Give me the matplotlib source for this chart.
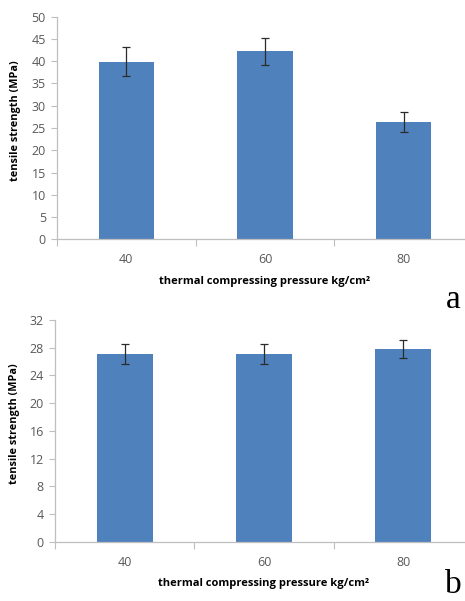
import matplotlib.pyplot as plt
import numpy as np

pressures = ['40', '60', '80']
strength_a = [39.9, 42.2, 26.4]
err_a = [3.2, 3.0, 2.3]
strength_b = [27.1, 27.1, 27.8]
err_b = [1.5, 1.4, 1.3]

bar_color = '#4F81BD'
axis_color = '#BFBFBF'
tick_color = '#595959'

plt.rcParams['font.family'] = ['Open Sans', 'DejaVu Sans']

fig = plt.figure(figsize=(4.65, 6.01), dpi=100)


def draw_panel(rect, values, errs, ymax, ystep):
    ax = fig.add_axes(rect)
    x = np.arange(len(pressures))
    ax.bar(x, values, width=0.4, color=bar_color, zorder=2)
    ax.errorbar(x, values, yerr=errs, fmt='none', ecolor='#2b2b2b',
                elinewidth=0.9, capsize=3, capthick=0.9, zorder=3)
    ax.set_xlim(-0.5, 2.5)
    ax.set_ylim(0, ymax)
    ax.set_yticks(np.arange(0, ymax + 0.1, ystep))
    # ticks sit on the category boundaries, labels in the middle
    ax.set_xticks([-0.5, 0.5, 1.5, 2.5])
    ax.set_xticklabels([])
    ax.set_xticks(x, minor=True)
    ax.set_xticklabels(pressures, minor=True)
    ax.tick_params(axis='x', which='major', length=5, color=axis_color, direction='out')
    ax.tick_params(axis='x', which='minor', length=0, pad=10, labelsize=9, labelcolor=tick_color)
    ax.tick_params(axis='y', length=4, color=axis_color, labelsize=9, labelcolor=tick_color, pad=4)
    for side in ['top', 'right']:
        ax.spines[side].set_visible(False)
    for side in ['left', 'bottom']:
        ax.spines[side].set_color(axis_color)
        ax.spines[side].set_linewidth(0.9)
    ax.set_ylabel('tensile strength (MPa)', fontsize=7.8, fontweight='bold')
    ax.yaxis.label.set_va('center')
    ax.yaxis.set_label_coords(-41 / (rect[2] * 465), 0.534)
    ax.set_xlabel('thermal compressing pressure kg/cm²', fontsize=8,
                  fontweight='bold', labelpad=7)
    return ax


draw_panel([57 / 465, 1 - 239.3 / 601, 416 / 465, 222.6 / 601],
           strength_a, err_a, 50, 5)
draw_panel([55 / 465, 1 - 541.7 / 601, 418 / 465, 221.7 / 601],
           strength_b, err_b, 32, 4)

fig.text(453 / 465, 1 - 308 / 601, 'a', family='Liberation Serif', fontsize=24,
         ha='center', va='baseline')
fig.text(453 / 465, 1 - 600 / 601, 'b', family='Liberation Serif', fontsize=24,
         ha='center', va='bottom')

fig.savefig('out.png', dpi=100)
